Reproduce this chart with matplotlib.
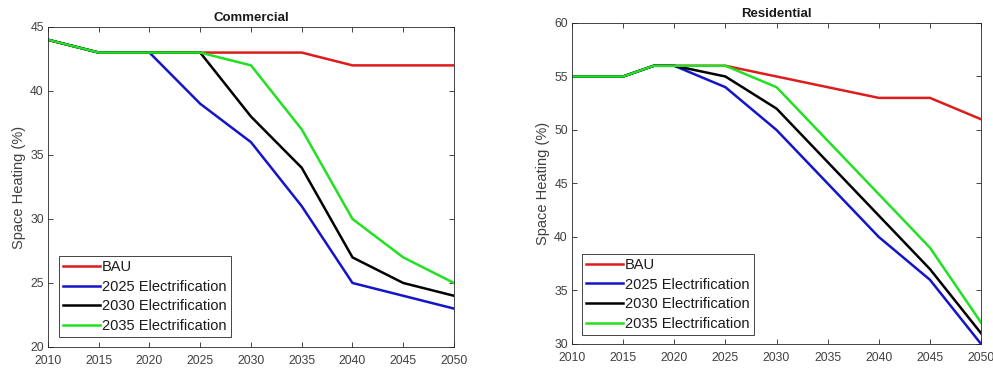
import matplotlib
matplotlib.use("Agg")
import matplotlib.pyplot as plt

plt.rcParams['font.family'] = ['Liberation Sans', 'DejaVu Sans']

series_names = ["BAU", "2025 Electrification", "2030 Electrification", "2035 Electrification"]
colors = ["#dd1c1c", "#1414c8", "#000000", "#22e022"]

com_years = [2010, 2015, 2020, 2025, 2030, 2035, 2040, 2045, 2050]
com_bau = [44, 43, 43, 43, 43, 43, 42, 42, 42]
com_2025 = [44, 43, 43, 39, 36, 31, 25, 24, 23]
com_2030 = [44, 43, 43, 43, 38, 34, 27, 25, 24]
com_2035 = [44, 43, 43, 43, 42, 37, 30, 27, 25]

res_years = [2010, 2015, 2018, 2020, 2025, 2030, 2035, 2040, 2045, 2050]
res_bau = [55, 55, 56, 56, 56, 55, 54, 53, 53, 51]
res_2025 = [55, 55, 56, 56, 54, 50, 45, 40, 36, 30]
res_2030 = [55, 55, 56, 56, 55, 52, 47, 42, 37, 31]
res_2035 = [55, 55, 56, 56, 56, 54, 49, 44, 39, 32]

x_ticks = [2010, 2015, 2020, 2025, 2030, 2035, 2040, 2045, 2050]
com_yticks = [20, 25, 30, 35, 40, 45]
res_yticks = [30, 35, 40, 45, 50, 55, 60]

axc = "#262626"
fig = plt.figure(figsize=(9.93, 3.70), dpi=100)
ax1 = fig.add_axes([0.0483, 0.0622, 0.4089, 0.8649])
ax2 = fig.add_axes([0.576, 0.0703, 0.412, 0.8676])


def draw(ax, years, data, yticks, title, leg_anchor):
    for vals, c, name in zip(data, colors, series_names):
        ax.plot(years, vals, color=c, lw=1.8, label=name, solid_joinstyle='miter')
    ax.set_xlim(2010, 2050)
    ax.set_ylim(yticks[0], yticks[-1])
    ax.set_xticks(x_ticks)
    ax.set_yticks(yticks)
    ax.tick_params(direction='in', length=3.5, width=0.6, top=True, right=True,
                   labelsize=8.8, colors=axc, labelcolor="#404040", pad=3)
    ax.tick_params(axis='x', pad=6)
    for s in ax.spines.values():
        s.set_color(axc)
        s.set_linewidth(0.6)
    ax.set_ylabel("Space Heating (%)", fontsize=10.5, color="#404040", labelpad=3)
    ax.set_title(title, fontsize=9.5, fontweight='bold', color="#1a1a1a", pad=4)
    leg = ax.legend(loc='lower left', bbox_to_anchor=leg_anchor, fontsize=10.5,
                    frameon=True, fancybox=False, framealpha=1, edgecolor=axc,
                    handlelength=2.5, handletextpad=0.15, labelspacing=0.38,
                    borderpad=0.3, borderaxespad=0.0)
    leg.get_frame().set_linewidth(0.6)
    for t in leg.get_texts():
        t.set_color("#1a1a1a")


draw(ax1, com_years, [com_bau, com_2025, com_2030, com_2035], com_yticks, "Commercial", (0.027, 0.031))
draw(ax2, res_years, [res_bau, res_2025, res_2030, res_2035], res_yticks, "Residential", (0.024, 0.028))

fig.savefig("out.png", dpi=100, facecolor="white")
